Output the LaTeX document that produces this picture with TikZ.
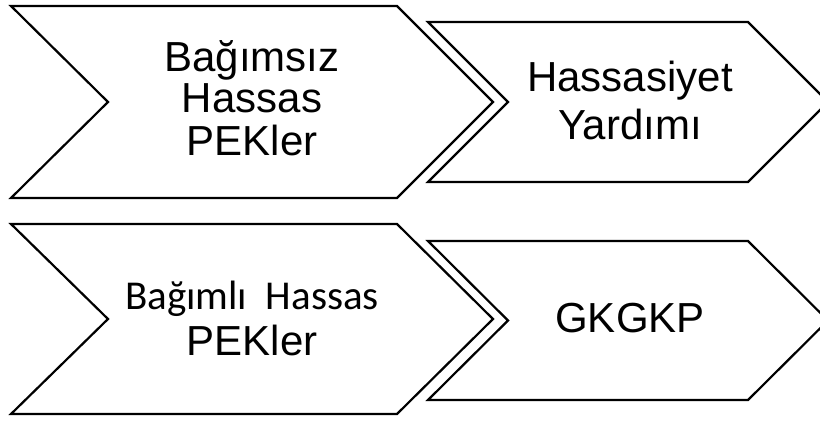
\documentclass[tikz,border=0pt]{standalone}
\usepackage{fontspec}
\setmainfont{Liberation Sans}
\newfontfamily\calfont{Carlito}
\begin{document}
\begin{tikzpicture}[x=1pt,y=-1pt,
  chev/.style={draw=black, line width=2.2pt, line join=miter, fill=white},
  lbl/.style={anchor=base, inner sep=0pt, font=\fontsize{42}{40}\selectfont}]
\useasboundingbox (0,0) rectangle (820,422);
\fill[white] (0,0) rectangle (820,422);
\begin{scope}
\clip (0,0) rectangle (820,422);
\draw[chev] (11,6) -- (397,6) -- (493,102) -- (397,198) -- (11,198) -- (108,102) -- cycle;
\draw[chev] (428,22) -- (748,22) -- (828,102) -- (748,182) -- (428,182) -- (508,102) -- cycle;
\draw[chev] (11,224) -- (397,224) -- (493,319) -- (397,414) -- (11,414) -- (108,319) -- cycle;
\draw[chev] (428,241) -- (748,241) -- (828,320.5) -- (748,400) -- (428,400) -- (508,320.5) -- cycle;
\end{scope}
\node[lbl] (t1) at (252,72) {\begin{tabular}[t]{@{}c@{}}Bağımsız\\Hassas\\PEKler\end{tabular}};
\node[lbl] (t2) at (630,92) {\begin{tabular}[t]{@{}c@{}}Hassasiyet\\[5pt]Yardımı\end{tabular}};
\node[lbl] (t3) at (252,309) {\begin{tabular}[t]{@{}c@{}}{\calfont\fontsize{41}{40}\selectfont Bağımlı\ \ Hassas}\\[4pt]PEKler\end{tabular}};
\node[lbl] (t4) at (630,333) {GKGKP};
\end{tikzpicture}
\end{document}
